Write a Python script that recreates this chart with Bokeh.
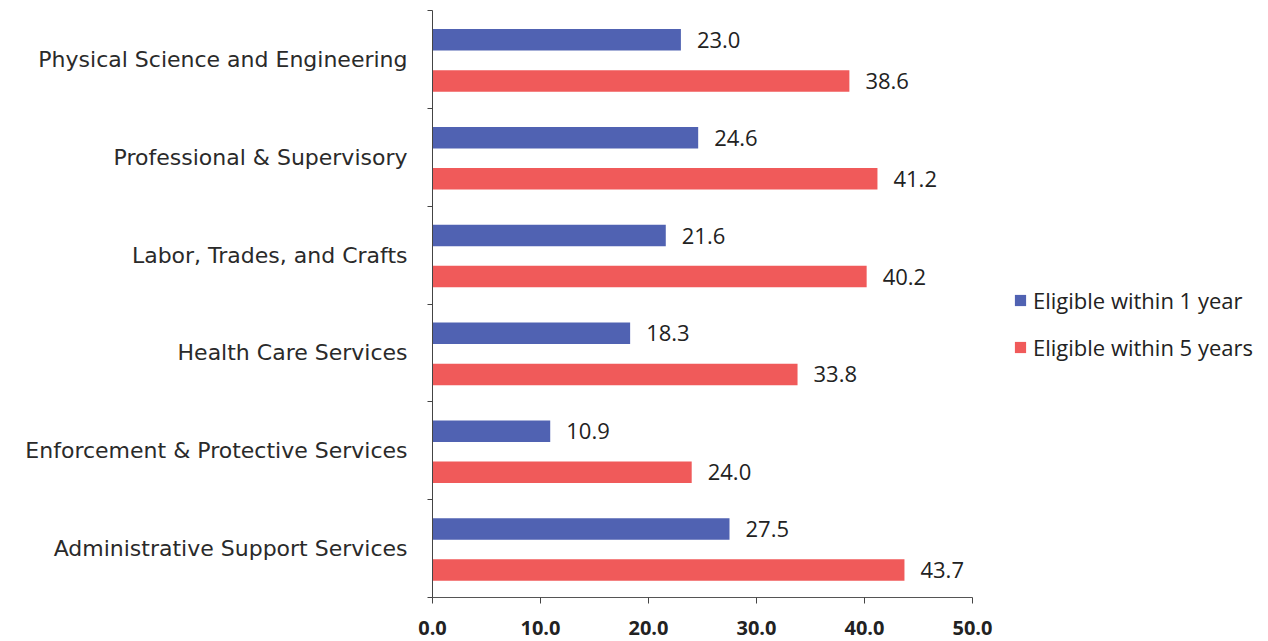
from bokeh.plotting import figure
from bokeh.models import ColumnDataSource, FixedTicker, Legend, LegendItem, Range1d
from bokeh.embed import file_html
from bokeh.resources import INLINE
from bokeh.core.properties import value

categories = ["Physical Science and Engineering", "Professional & Supervisory",
              "Labor, Trades, and Crafts", "Health Care Services",
              "Enforcement & Protective Services", "Administrative Support Services"]
within_1_year = [23.0, 24.6, 21.6, 18.3, 10.9, 27.5]
within_5_years = [38.6, 41.2, 40.2, 33.8, 24.0, 43.7]
x_ticks = [0, 10, 20, 30, 40, 50]

n = len(categories)
centers = [n - 0.5 - i for i in range(n)]
blue_y = [c + 0.2 for c in centers]
red_y = [c - 0.22 for c in centers]

BLUE = "#5062b2"
RED = "#f05a5a"

p = figure(frame_width=540, frame_height=587, output_backend="svg", toolbar_location=None,
           x_range=Range1d(0, 50), y_range=Range1d(0, n),
           min_border_left=432, min_border_right=0, min_border_top=10,
           min_border_bottom=44)
p.outline_line_color = None
p.grid.visible = False

src1 = ColumnDataSource(dict(y=blue_y, v=within_1_year, t=[f"{x:.1f}" for x in within_1_year]))
src5 = ColumnDataSource(dict(y=red_y, v=within_5_years, t=[f"{x:.1f}" for x in within_5_years]))

r1 = p.hbar(y="y", right="v", left=0, height=0.22, source=src1, fill_color=BLUE, line_color=None)
r5 = p.hbar(y="y", right="v", left=0, height=0.22, source=src5, fill_color=RED, line_color=None)

for s in (src1, src5):
    p.text(x="v", y="y", text="t", source=s, x_offset=16, text_baseline="middle",
           text_align="left", text_font=value("Open Sans"), text_font_size="22px",
           text_color="#222222")

# y axis
p.yaxis.ticker = FixedTicker(ticks=centers, minor_ticks=list(range(n + 1)))
p.yaxis.major_label_overrides = {c: cat for c, cat in zip(centers, categories)}
p.yaxis.major_tick_line_color = None
p.yaxis.minor_tick_out = 5
p.yaxis.minor_tick_in = 0
p.yaxis.minor_tick_line_color = "#444444"
p.yaxis.axis_line_color = "#444444"
p.yaxis.major_label_text_font = "DejaVu Sans"
p.yaxis.major_label_text_font_size = "22px"
p.yaxis.major_label_text_color = "#2a2a2a"
p.yaxis.major_label_standoff = 19

# x axis
p.xaxis.ticker = FixedTicker(ticks=x_ticks)
p.xaxis.major_label_overrides = {t: f"{t:.1f}" for t in x_ticks}
p.xaxis.minor_tick_line_color = None
p.xaxis.major_tick_out = 6
p.xaxis.major_tick_in = 0
p.xaxis.axis_line_color = "#555555"
p.xaxis.major_tick_line_color = "#444444"
p.xaxis.major_label_text_font = "Open Sans"
p.xaxis.major_label_text_font_style = "bold"
p.xaxis.major_label_text_font_size = "20px"
p.xaxis.major_label_text_color = "#222222"
p.xaxis.major_label_standoff = 17

legend = Legend(items=[LegendItem(label="Eligible within 1 year", renderers=[r1]),
                       LegendItem(label="Eligible within 5 years", renderers=[r5])],
                location=(41, 235), border_line_color=None,
                label_text_font="Open Sans", label_text_font_size="22px",
                label_text_color="#222222", glyph_width=14, glyph_height=14,
                spacing=17, margin=0, padding=0, label_standoff=6)
p.add_layout(legend, "right")

open("out.html", "w").write(file_html(p, INLINE))
